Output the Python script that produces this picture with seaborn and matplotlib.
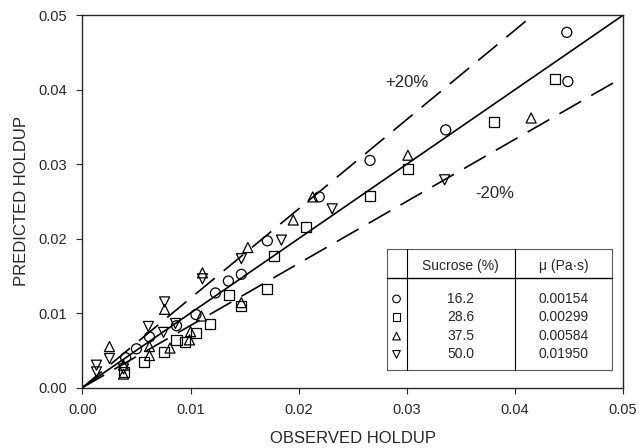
import matplotlib
matplotlib.use("Agg")
import matplotlib.pyplot as plt
import numpy as np
import pandas as pd
import seaborn as sns
from matplotlib.ticker import FormatStrFormatter

# observed / predicted holdup
obs_162 = [0.0448, 0.0449, 0.0336, 0.0266, 0.0219, 0.0171, 0.0147, 0.0135, 0.0123,
           0.0105, 0.0087, 0.0062, 0.0050, 0.0040]
pred_162 = [0.0477, 0.0411, 0.0346, 0.0305, 0.0256, 0.0197, 0.0152, 0.0143, 0.0127,
            0.0098, 0.0083, 0.0068, 0.0052, 0.0040]

obs_286 = [0.0437, 0.0381, 0.0301, 0.0266, 0.0207, 0.0177, 0.0171, 0.0147, 0.0136,
           0.0118, 0.0105, 0.0095, 0.0087, 0.0075, 0.0057, 0.0038]
pred_286 = [0.0414, 0.0357, 0.0293, 0.0257, 0.0216, 0.0176, 0.0132, 0.0110, 0.0124,
            0.0085, 0.0073, 0.0061, 0.0064, 0.0048, 0.0034, 0.0021]

obs_375 = [0.0415, 0.0301, 0.0213, 0.0195, 0.0153, 0.0111, 0.0147, 0.0076, 0.0110,
           0.0100, 0.0099, 0.0081, 0.0062, 0.0062, 0.0025, 0.0038, 0.0038]
pred_375 = [0.0362, 0.0312, 0.0256, 0.0225, 0.0188, 0.0154, 0.0114, 0.0105, 0.0096,
            0.0075, 0.0064, 0.0053, 0.0055, 0.0043, 0.0055, 0.0030, 0.0018]

obs_500 = [0.0335, 0.0231, 0.0184, 0.0147, 0.0111, 0.0076, 0.0086, 0.0061, 0.0075,
           0.0025, 0.0013, 0.0013, 0.0038]
pred_500 = [0.0279, 0.0240, 0.0198, 0.0173, 0.0146, 0.0115, 0.0086, 0.0082, 0.0074,
            0.0039, 0.0030, 0.0021, 0.0025]

sucrose = ["16.2", "28.6", "37.5", "50.0"]
viscosity = ["0.00154", "0.00299", "0.00584", "0.01950"]
markers = ["o", "s", "^", "v"]

df = pd.concat([
    pd.DataFrame({"obs": obs_162, "pred": pred_162, "sucrose": "16.2"}),
    pd.DataFrame({"obs": obs_286, "pred": pred_286, "sucrose": "28.6"}),
    pd.DataFrame({"obs": obs_375, "pred": pred_375, "sucrose": "37.5"}),
    pd.DataFrame({"obs": obs_500, "pred": pred_500, "sucrose": "50.0"}),
])

sns.set_style("ticks")
plt.rcParams["font.family"] = ["Liberation Sans", "DejaVu Sans"]

fig = plt.figure(figsize=(6.39, 4.48), dpi=100)
ax = fig.add_axes([0.129, 0.135, 0.846, 0.831])

# parity line and +/-20% bands
lim = 0.05
ax.plot([0, lim], [0, lim], color="black", lw=1.2)
ax.plot([0, lim / 1.2], [0, lim], color="black", lw=1.2, linestyle=(0, (15, 7)))
ax.plot([0, lim], [0, lim / 1.2], color="black", lw=1.2, linestyle=(0, (15, 7)))

for suc, m in zip(sucrose, markers):
    sub = df[df["sucrose"] == suc]
    sns.scatterplot(data=sub, x="obs", y="pred", marker=m, s=52,
                    color="black", linewidth=0.9, ax=ax, legend=False)
    ax.collections[-1].set_facecolor("none")
    ax.collections[-1].set_edgecolor("black")

ax.text(0.0300, 0.0410, "+20%", fontsize=12, ha="center", va="center")
ax.text(0.0381, 0.0261, "-20%", fontsize=12, ha="center", va="center")

ax.set_xlim(0, 0.05)
ax.set_ylim(0, 0.05)
ax.set_xticks(np.arange(0, 0.051, 0.01))
ax.set_yticks(np.arange(0, 0.051, 0.01))
ax.xaxis.set_major_formatter(FormatStrFormatter("%.2f"))
ax.yaxis.set_major_formatter(FormatStrFormatter("%.2f"))
ax.tick_params(direction="out", length=4, width=0.8, labelsize=10.5, pad=7)
ax.set_xlabel("OBSERVED HOLDUP", fontsize=12, labelpad=10)
ax.set_ylabel("PREDICTED HOLDUP", fontsize=12, labelpad=7)
for sp in ax.spines.values():
    sp.set_linewidth(1.0)
    sp.set_visible(True)

# table legend
tx0, tx1, tc1, tc2 = 0.563, 0.980, 0.600, 0.800
ty0, ty1, th = 0.047, 0.372, 0.294
T = ax.transAxes
ax.plot([tx0, tx1, tx1, tx0, tx0], [ty0, ty0, ty1, ty1, ty0], transform=T,
        color="0.35", lw=0.8, clip_on=False)
ax.plot([tx0, tx1], [th, th], transform=T, color="black", lw=1.0)
ax.plot([tc1, tc1], [ty0, ty1], transform=T, color="black", lw=0.8)
ax.plot([tc2, tc2], [ty0, ty1], transform=T, color="black", lw=0.8)
ax.text(0.700, 0.326, "Sucrose (%)", transform=T, fontsize=10, ha="center", va="center")
ax.text(0.890, 0.326, "\u03bc (Pa\u00b7s)", transform=T, fontsize=10, ha="center", va="center")
row_y = [0.238, 0.189, 0.138, 0.089]
for yy, m, s_val, v_val in zip(row_y, markers, sucrose, viscosity):
    ax.scatter([0.581], [yy], transform=T, marker=m, s=30, facecolors="none",
               edgecolors="black", linewidths=0.8)
    ax.text(0.700, yy, s_val, transform=T, fontsize=10, ha="center", va="center")
    ax.text(0.890, yy, v_val, transform=T, fontsize=10, ha="center", va="center")

fig.savefig("out.png", dpi=100)
